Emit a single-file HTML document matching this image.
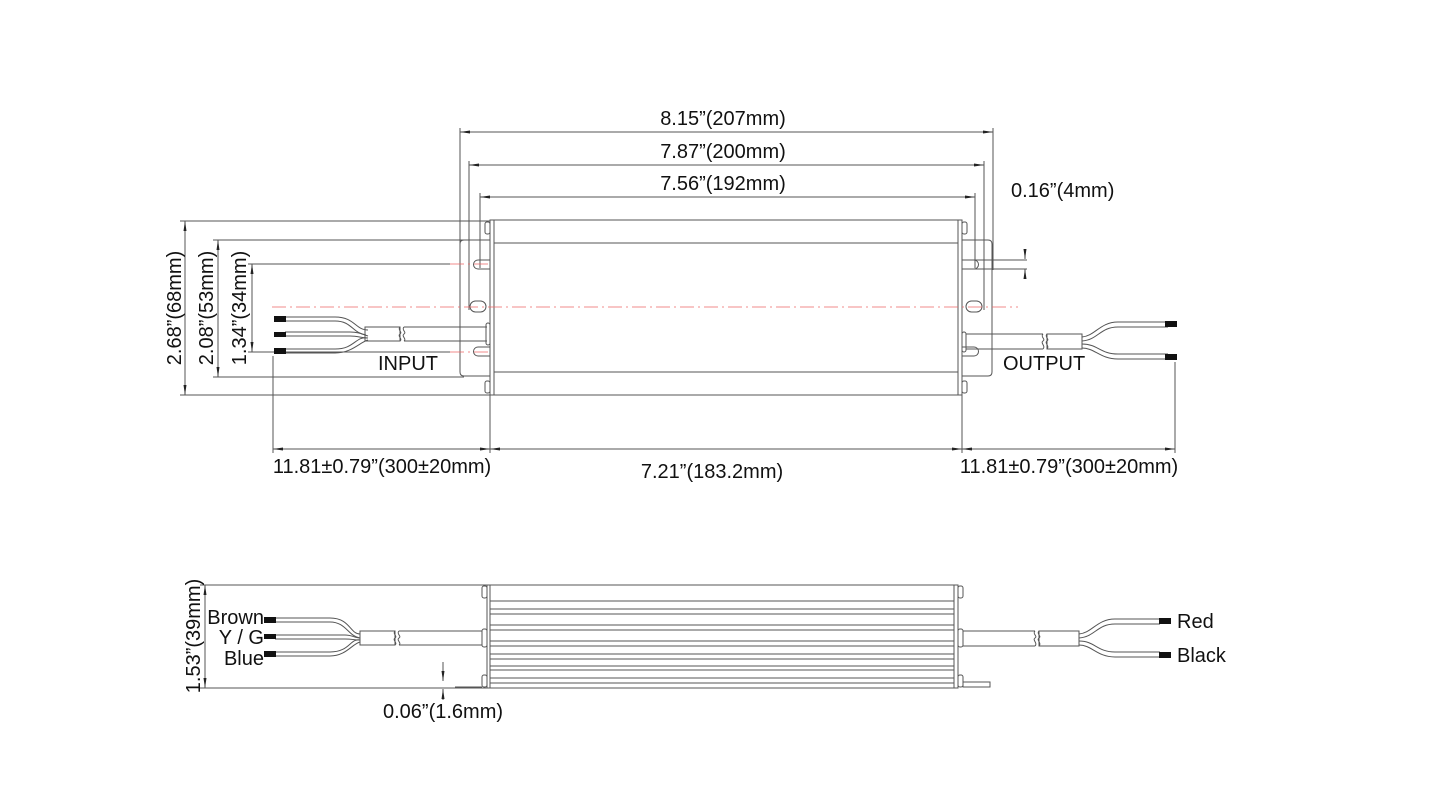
<!DOCTYPE html>
<html><head><meta charset="utf-8"><style>
html,body{margin:0;padding:0;background:#fff;}
svg{display:block;}
text{font-family:"Liberation Sans",Arial,sans-serif;fill:#111;}
</style></head><body>
<svg width="1445" height="811" viewBox="0 0 1445 811" xmlns="http://www.w3.org/2000/svg">
<defs>
<marker id="a" viewBox="0 0 10 6" refX="10" refY="3" markerWidth="10" markerHeight="6" orient="auto-start-reverse" markerUnits="userSpaceOnUse"><path d="M0,1.5 L10,3 L0,4.5z" fill="#222"/></marker>
</defs>
<g stroke="#555" stroke-width="1" fill="none">
<line x1="460" y1="132" x2="993" y2="132" marker-start="url(#a)" marker-end="url(#a)"/>
<line x1="469" y1="165" x2="984" y2="165" marker-start="url(#a)" marker-end="url(#a)"/>
<line x1="480" y1="197" x2="975" y2="197" marker-start="url(#a)" marker-end="url(#a)"/>
<line x1="460" y1="128" x2="460" y2="270"/>
<line x1="993" y1="128" x2="993" y2="270"/>
<line x1="469" y1="161" x2="469" y2="310"/>
<line x1="984" y1="161" x2="984" y2="310"/>
<line x1="480" y1="193" x2="480" y2="268"/>
<line x1="975" y1="193" x2="975" y2="268"/>
<rect x="490" y="220" width="472" height="175" fill="#fff"/>
<line x1="494" y1="220" x2="494" y2="395"/>
<line x1="958" y1="220" x2="958" y2="395"/>
<line x1="494" y1="243" x2="958" y2="243"/>
<line x1="494" y1="372" x2="958" y2="372"/>
<path d="M490,240 H464 Q460,240 460,244 V372 Q460,376 464,376 H490"/>
<path d="M490,260 H478 a4,4 0 0 0 0,9 H490"/>
<path d="M490,347 H478 a4,4 0 0 0 0,9 H490"/>
<rect x="470" y="301" width="16" height="11" rx="5.5"/>
<rect x="485" y="222" width="5" height="12" rx="2"/>
<rect x="485" y="381" width="5" height="12" rx="2"/>
<path d="M962,240 H988 Q992,240 992,244 V372 Q992,376 988,376 H962"/>
<path d="M962,260 H974 a4,4 0 0 1 0,9 H962"/>
<path d="M962,347 H974 a4,4 0 0 1 0,9 H962"/>
<rect x="966" y="301" width="16" height="11" rx="5.5"/>
<rect x="962" y="222" width="5" height="12" rx="2"/>
<rect x="962" y="381" width="5" height="12" rx="2"/>
<line x1="185" y1="221" x2="185" y2="395" marker-start="url(#a)" marker-end="url(#a)"/>
<line x1="218" y1="240" x2="218" y2="377" marker-start="url(#a)" marker-end="url(#a)"/>
<line x1="252" y1="264" x2="252" y2="352" marker-start="url(#a)" marker-end="url(#a)"/>
<line x1="180" y1="221" x2="490" y2="221"/>
<line x1="180" y1="395" x2="490" y2="395"/>
<line x1="213" y1="240" x2="464" y2="240"/>
<line x1="213" y1="377" x2="464" y2="377"/>
<line x1="248" y1="264" x2="450" y2="264"/>
<line x1="248" y1="352" x2="450" y2="352"/>
<line x1="1025" y1="250" x2="1025" y2="259" marker-end="url(#a)"/>
<line x1="1025" y1="279" x2="1025" y2="269" marker-end="url(#a)"/>
<line x1="974" y1="260" x2="1027" y2="260"/>
<line x1="974" y1="269" x2="1027" y2="269"/>
<path d="M285,317 H335 C355,317 355,330 368,330"/>
<path d="M285,321 H335 C352,321 352,333 366,335"/>
<path d="M285,332 H350 C358,332 362,334 368,336"/>
<path d="M285,336 H350 C358,336 362,338 368,338"/>
<path d="M285,349 H335 C355,349 355,336 368,338"/>
<path d="M285,353 H335 C352,353 360,342 368,340"/>
<rect x="365" y="327" width="35" height="14"/>
<path d="M400,327 c-3,3 3,5 0,7 c-3,2 3,5 0,7"/>
<path d="M404,327 c-3,3 3,5 0,7 c-3,2 3,5 0,7"/>
<line x1="404" y1="327" x2="487" y2="327"/>
<line x1="404" y1="341" x2="487" y2="341"/>
<rect x="486" y="323" width="4" height="22" rx="2"/>
<rect x="962" y="332" width="4" height="20" rx="2"/>
<line x1="966" y1="334" x2="1043" y2="334"/>
<line x1="966" y1="349" x2="1043" y2="349"/>
<path d="M1043,334 c-3,3 3,5 0,7 c-3,2 3,5 0,8"/>
<path d="M1047,334 c-3,3 3,5 0,7 c-3,2 3,5 0,8"/>
<rect x="1047" y="334" width="35" height="15"/>
<path d="M1082,337 C1095,336 1100,322 1118,322 H1168"/>
<path d="M1082,341 C1098,340 1100,327 1118,327 H1168"/>
<path d="M1082,344 C1098,344 1100,354 1118,354 H1168"/>
<path d="M1082,348 C1095,348 1100,359 1118,359 H1168"/>
<line x1="273" y1="449" x2="490" y2="449" marker-start="url(#a)" marker-end="url(#a)"/>
<line x1="490" y1="449" x2="962" y2="449" marker-start="url(#a)" marker-end="url(#a)"/>
<line x1="962" y1="449" x2="1175" y2="449" marker-start="url(#a)" marker-end="url(#a)"/>
<line x1="273" y1="356" x2="273" y2="453"/>
<line x1="490" y1="395" x2="490" y2="453"/>
<line x1="962" y1="395" x2="962" y2="453"/>
<line x1="1175" y1="362" x2="1175" y2="453"/>
<rect x="487" y="585" width="471" height="103" fill="#fff"/>
<line x1="490" y1="585" x2="490" y2="688"/>
<line x1="954" y1="585" x2="954" y2="688"/>
<line x1="490" y1="601" x2="954" y2="601"/>
<line x1="490" y1="609" x2="954" y2="609"/>
<line x1="490" y1="614" x2="954" y2="614"/>
<line x1="490" y1="625" x2="954" y2="625"/>
<line x1="490" y1="630" x2="954" y2="630"/>
<line x1="490" y1="641" x2="954" y2="641"/>
<line x1="490" y1="646" x2="954" y2="646"/>
<line x1="490" y1="654" x2="954" y2="654"/>
<line x1="490" y1="659" x2="954" y2="659"/>
<line x1="490" y1="666" x2="954" y2="666"/>
<line x1="490" y1="670" x2="954" y2="670"/>
<line x1="490" y1="678" x2="954" y2="678"/>
<line x1="490" y1="683" x2="954" y2="683"/>
<rect x="482" y="586" width="5" height="12" rx="2"/>
<rect x="482" y="675" width="5" height="12" rx="2"/>
<rect x="482" y="629" width="5" height="18" rx="2"/>
<rect x="958" y="586" width="5" height="12" rx="2"/>
<rect x="958" y="675" width="5" height="12" rx="2"/>
<rect x="958" y="629" width="5" height="18" rx="2"/>
<rect x="963" y="682" width="27" height="5"/>
<line x1="455" y1="687" x2="482" y2="687"/>
<line x1="205" y1="585" x2="205" y2="688" marker-start="url(#a)" marker-end="url(#a)"/>
<line x1="200" y1="585" x2="487" y2="585"/>
<line x1="200" y1="688" x2="487" y2="688"/>
<line x1="443" y1="662" x2="443" y2="681" marker-end="url(#a)"/>
<line x1="443" y1="700" x2="443" y2="689" marker-end="url(#a)"/>
<path d="M275,618 H330 C350,618 350,634 360,634"/>
<path d="M275,622 H330 C346,622 348,636 360,638"/>
<path d="M275,635 H345 C352,635 355,638 360,638"/>
<path d="M275,639 H345 C352,639 355,640 360,640"/>
<path d="M275,652 H330 C350,652 350,638 360,640"/>
<path d="M275,656 H330 C346,656 352,644 360,642"/>
<rect x="360" y="631" width="35" height="14"/>
<path d="M395,631 c-3,3 3,5 0,7 c-3,2 3,5 0,7"/>
<path d="M399,631 c-3,3 3,5 0,7 c-3,2 3,5 0,7"/>
<line x1="399" y1="631" x2="482" y2="631"/>
<line x1="399" y1="645" x2="482" y2="645"/>
<line x1="963" y1="631" x2="1035" y2="631"/>
<line x1="963" y1="646" x2="1035" y2="646"/>
<path d="M1035,631 c-3,3 3,5 0,7 c-3,2 3,5 0,8"/>
<path d="M1039,631 c-3,3 3,5 0,7 c-3,2 3,5 0,8"/>
<rect x="1039" y="631" width="40" height="15"/>
<path d="M1079,634 C1092,633 1097,619 1115,619 H1160"/>
<path d="M1079,638 C1095,637 1097,624 1115,624 H1160"/>
<path d="M1079,641 C1095,641 1097,652 1115,652 H1160"/>
<path d="M1079,645 C1092,645 1097,657 1115,657 H1160"/>
</g>
<g stroke="#e66" stroke-width="0.8" stroke-dasharray="14,4,2,4" fill="none">
<line x1="272" y1="307" x2="1018" y2="307"/>
<line x1="450" y1="264" x2="492" y2="264"/>
<line x1="450" y1="352" x2="492" y2="352"/>
</g>
<g fill="#111">
<rect x="274" y="316" width="12" height="6"/>
<rect x="274" y="332" width="12" height="5"/>
<rect x="274" y="348" width="12" height="6"/>
<rect x="1165" y="321" width="12" height="6"/>
<rect x="1165" y="354" width="12" height="6"/>
<rect x="264" y="617" width="12" height="6"/>
<rect x="264" y="634" width="12" height="5"/>
<rect x="264" y="651" width="12" height="6"/>
<rect x="1159" y="618" width="12" height="6"/>
<rect x="1159" y="652" width="12" height="6"/>
</g>
<g font-size="20">
<text x="723" y="125" text-anchor="middle">8.15”(207mm)</text>
<text x="723" y="158" text-anchor="middle">7.87”(200mm)</text>
<text x="723" y="190" text-anchor="middle">7.56”(192mm)</text>
<text x="1011" y="197">0.16”(4mm)</text>
<text x="378" y="370">INPUT</text>
<text x="1003" y="370">OUTPUT</text>
<text x="382" y="473" text-anchor="middle">11.81±0.79”(300±20mm)</text>
<text x="712" y="478" text-anchor="middle">7.21”(183.2mm)</text>
<text x="1069" y="473" text-anchor="middle">11.81±0.79”(300±20mm)</text>
<text transform="translate(181,308) rotate(-90)" text-anchor="middle">2.68”(68mm)</text>
<text transform="translate(213,308) rotate(-90)" text-anchor="middle">2.08”(53mm)</text>
<text transform="translate(246,308) rotate(-90)" text-anchor="middle">1.34”(34mm)</text>
<text transform="translate(200,636) rotate(-90)" text-anchor="middle">1.53”(39mm)</text>
<text x="264" y="624" text-anchor="end">Brown</text>
<text x="264" y="644" text-anchor="end">Y / G</text>
<text x="264" y="665" text-anchor="end">Blue</text>
<text x="1177" y="628">Red</text>
<text x="1177" y="662">Black</text>
<text x="443" y="718" text-anchor="middle">0.06”(1.6mm)</text>
</g>
</svg>
</body></html>
